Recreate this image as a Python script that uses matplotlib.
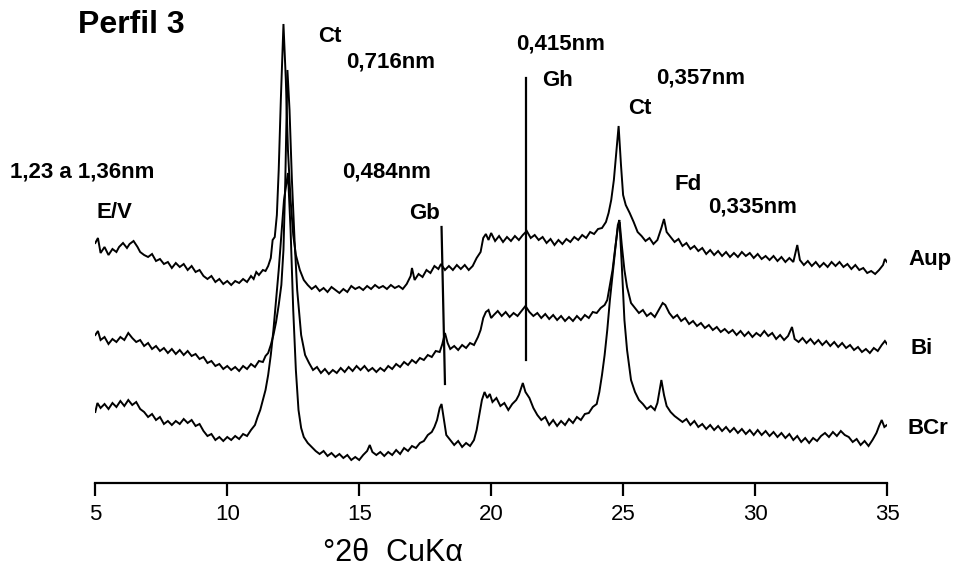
import matplotlib
matplotlib.use("Agg")
import matplotlib.pyplot as plt

plt.rcParams['font.family'] = ['Liberation Sans', 'DejaVu Sans']

# 2theta (degrees) and intensity (arbitrary, offset traces)
aup_x = [5.0,5.1,5.2,5.35,5.5,5.65,5.8,5.9,6.05,6.2,6.3,6.45,6.6,6.7,6.85,7.0,7.15,7.3,7.45,7.6,7.75,7.9,8.05,8.2,8.35,8.5,8.65,8.8,8.95,9.1,9.25,9.4,9.55,9.7,9.85,10.0,10.15,10.3,10.45,10.6,10.75,10.9,11.0,11.1,11.2,11.35,11.45,11.55,11.65,11.72,11.8,11.88,11.95,12.03,12.13,12.22,12.3,12.4,12.5,12.6,12.75,12.9,13.05,13.2,13.35,13.5,13.65,13.8,13.95,14.1,14.25,14.4,14.55,14.7,14.85,15.0,15.15,15.3,15.45,15.6,15.75,15.9,16.05,16.2,16.35,16.5,16.65,16.8,16.95,17.0,17.1,17.25,17.4,17.55,17.7,17.85,18.0,18.1,18.25,18.4,18.55,18.7,18.85,19.0,19.15,19.3,19.45,19.6,19.7,19.8,19.9,20.0,20.15,20.3,20.45,20.6,20.75,20.9,21.05,21.2,21.35,21.5,21.65,21.8,21.95,22.1,22.25,22.4,22.55,22.7,22.85,23.0,23.15,23.3,23.45,23.6,23.75,23.9,24.05,24.2,24.35,24.45,24.55,24.65,24.75,24.83,24.92,25.0,25.1,25.25,25.4,25.55,25.7,25.85,26.0,26.15,26.3,26.45,26.55,26.65,26.8,26.95,27.1,27.25,27.4,27.55,27.7,27.85,28.0,28.15,28.3,28.45,28.6,28.75,28.9,29.05,29.2,29.35,29.5,29.65,29.8,29.95,30.1,30.25,30.4,30.55,30.7,30.85,31.0,31.15,31.3,31.45,31.6,31.7,31.85,32.0,32.15,32.3,32.45,32.6,32.75,32.9,33.05,33.2,33.35,33.5,33.65,33.8,33.95,34.1,34.25,34.4,34.55,34.7,34.85,34.92,35.0]
aup_y = [240,245,230,236,228,234,231,236,240,235,239,242,236,231,228,226,229,222,224,219,221,215,220,216,219,213,217,211,213,207,204,207,201,204,199,202,198,202,200,204,201,207,204,211,208,213,212,217,225,243,246,268,313,383,459,403,333,283,248,228,213,203,198,194,197,192,195,191,196,193,190,194,191,197,194,196,193,197,194,198,195,197,194,198,195,197,194,199,207,215,203,209,206,213,210,217,214,219,213,217,213,218,214,218,213,217,225,231,245,249,243,250,242,247,241,246,242,247,243,248,252,245,248,243,246,240,244,238,243,239,244,241,246,243,248,245,251,249,254,255,261,270,283,303,333,357,318,288,278,270,261,251,247,242,245,239,243,255,264,251,246,241,244,237,240,234,237,232,235,229,233,228,232,227,231,226,230,226,231,227,230,225,229,224,227,223,227,222,226,221,225,221,238,223,218,222,217,221,216,220,216,221,217,221,216,219,214,218,213,215,210,212,209,213,218,224,221]

bi_x = [5.0,5.1,5.2,5.35,5.5,5.65,5.8,5.95,6.1,6.25,6.4,6.55,6.7,6.85,7.0,7.15,7.3,7.45,7.6,7.75,7.9,8.05,8.2,8.35,8.5,8.65,8.8,8.95,9.1,9.25,9.4,9.55,9.7,9.85,10.0,10.15,10.3,10.45,10.6,10.75,10.9,11.05,11.2,11.35,11.45,11.55,11.65,11.75,11.85,11.95,12.05,12.13,12.2,12.28,12.36,12.45,12.55,12.65,12.8,12.95,13.1,13.25,13.4,13.55,13.7,13.85,14.0,14.15,14.3,14.45,14.6,14.75,14.9,15.05,15.2,15.35,15.5,15.65,15.8,15.95,16.1,16.25,16.4,16.55,16.7,16.85,17.0,17.15,17.3,17.45,17.6,17.75,17.9,18.05,18.15,18.25,18.35,18.45,18.6,18.75,18.9,19.05,19.2,19.35,19.5,19.6,19.7,19.8,19.9,20.0,20.1,20.25,20.4,20.55,20.7,20.85,21.0,21.15,21.3,21.45,21.6,21.75,21.9,22.05,22.2,22.35,22.5,22.65,22.8,22.95,23.1,23.25,23.4,23.55,23.7,23.85,24.0,24.15,24.3,24.4,24.5,24.6,24.7,24.8,24.87,24.95,25.05,25.15,25.3,25.45,25.6,25.75,25.9,26.05,26.2,26.35,26.5,26.6,26.75,26.9,27.05,27.2,27.35,27.5,27.65,27.8,27.95,28.1,28.25,28.4,28.55,28.7,28.85,29.0,29.15,29.3,29.45,29.6,29.75,29.9,30.05,30.2,30.35,30.5,30.65,30.8,30.95,31.1,31.25,31.4,31.5,31.65,31.8,31.95,32.1,32.25,32.4,32.55,32.7,32.85,33.0,33.15,33.3,33.45,33.6,33.75,33.9,34.05,34.2,34.35,34.5,34.65,34.8,34.92,35.0]
bi_y = [148,152,143,146,139,144,141,146,143,150,145,141,143,137,140,134,137,132,135,130,134,129,133,128,132,127,129,124,126,120,122,117,119,114,117,113,116,112,117,114,119,116,122,121,127,130,138,148,161,178,198,233,303,413,373,303,243,193,148,128,120,113,116,110,114,109,113,110,115,111,116,112,117,113,117,112,115,111,115,112,117,114,119,116,121,118,123,120,125,123,128,126,132,131,139,150,140,134,137,133,138,135,140,138,146,153,165,171,173,165,168,172,167,171,166,170,167,172,177,171,167,170,165,169,164,168,163,167,162,166,162,167,163,168,165,171,170,175,178,183,198,213,235,255,261,238,213,196,180,175,170,173,167,170,166,173,180,178,170,165,168,162,165,159,162,157,160,155,158,153,156,151,154,150,153,148,152,147,151,146,150,147,152,147,150,144,148,143,147,156,144,141,145,140,144,139,143,138,142,137,141,136,140,135,138,133,136,131,134,130,135,132,138,142,139]

bcr_x = [5.0,5.08,5.2,5.35,5.5,5.65,5.8,5.95,6.1,6.25,6.4,6.55,6.7,6.85,7.0,7.15,7.3,7.45,7.6,7.75,7.9,8.05,8.2,8.35,8.5,8.65,8.8,8.95,9.1,9.25,9.4,9.55,9.7,9.85,10.0,10.15,10.3,10.45,10.6,10.75,10.9,11.05,11.15,11.25,11.35,11.45,11.55,11.65,11.75,11.85,11.95,12.05,12.15,12.3,12.4,12.5,12.6,12.7,12.8,12.9,13.05,13.2,13.35,13.5,13.65,13.8,13.95,14.1,14.25,14.4,14.55,14.7,14.85,15.0,15.15,15.3,15.4,15.5,15.65,15.8,15.95,16.1,16.25,16.4,16.55,16.7,16.85,17.0,17.15,17.3,17.45,17.6,17.75,17.85,17.95,18.05,18.12,18.2,18.3,18.45,18.6,18.75,18.9,19.05,19.2,19.35,19.45,19.55,19.65,19.75,19.85,19.95,20.05,20.2,20.35,20.5,20.65,20.8,20.95,21.05,21.2,21.3,21.45,21.6,21.75,21.9,22.05,22.2,22.35,22.5,22.65,22.8,22.95,23.1,23.25,23.4,23.55,23.7,23.85,24.0,24.1,24.2,24.3,24.4,24.5,24.6,24.7,24.8,24.86,24.95,25.05,25.15,25.3,25.45,25.6,25.75,25.9,26.05,26.2,26.3,26.45,26.55,26.65,26.8,26.95,27.1,27.25,27.4,27.55,27.7,27.85,28.0,28.15,28.3,28.45,28.6,28.75,28.9,29.05,29.2,29.35,29.5,29.65,29.8,29.95,30.1,30.25,30.4,30.55,30.7,30.85,31.0,31.15,31.3,31.45,31.6,31.75,31.9,32.05,32.2,32.35,32.5,32.65,32.8,32.95,33.1,33.25,33.4,33.55,33.7,33.85,34.0,34.15,34.3,34.45,34.6,34.7,34.8,34.9,35.0]
bcr_y = [71,80,75,79,74,80,76,82,77,83,78,81,74,71,66,69,63,66,59,62,58,62,59,64,60,63,57,59,52,47,49,43,46,42,46,43,47,44,49,47,53,58,66,73,83,93,108,128,153,183,213,248,283,310,253,173,113,73,55,46,40,36,32,29,32,27,30,26,29,25,28,23,26,23,28,32,38,31,28,31,27,31,28,33,29,35,32,37,35,40,42,48,51,56,63,75,79,65,48,43,38,42,36,40,37,43,53,68,83,91,85,89,81,85,77,80,73,79,83,88,100,91,85,75,68,63,66,58,63,57,62,58,64,60,66,63,69,70,76,79,91,108,128,153,183,208,233,258,263,218,163,133,103,91,83,79,74,77,73,80,103,88,77,71,67,64,61,64,58,62,56,59,54,58,53,57,52,56,51,55,50,54,49,53,48,53,48,52,47,51,46,50,45,49,43,47,41,45,40,45,42,47,50,46,51,47,52,48,46,41,44,38,42,37,43,50,57,63,56,58]

# reference lines (Gb, Gh)
gb_x = [18.12, 18.25]
gb_y = [256, 99]
gh_x = [21.31, 21.31]
gh_y = [405, 123]

W, H = 955, 576
fig = plt.figure(figsize=(W/100, H/100), dpi=100)
ax = fig.add_axes([95.3/W, 1-483/H, (887-95.3)/W, 483/H])
for xs, ys in [(aup_x, aup_y), (bi_x, bi_y), (bcr_x, bcr_y)]:
    ax.plot(xs, ys, color='black', lw=1.4, solid_joinstyle='miter')
ax.plot(gb_x, gb_y, color='black', lw=1.6)
ax.plot(gh_x, gh_y, color='black', lw=1.6)

ax.set_xlim(5, 35)
ax.set_ylim(0, 483)
for s in ['top', 'left', 'right']:
    ax.spines[s].set_visible(False)
ax.spines['bottom'].set_linewidth(1.6)
ax.set_yticks([])
ax.set_xticks([5, 10, 15, 20, 25, 30, 35])
ax.tick_params(axis='x', direction='out', length=9, width=1.6, labelsize=16, pad=6)
ax.patch.set_visible(False)

def t(px, py, s, size=16, weight='bold', ha='left'):
    fig.text(px/W, 1-py/H, s, fontsize=size, fontweight=weight, ha=ha, va='center')

t(78, 25, 'Perfil 3', size=23)
t(318, 36, 'Ct')
t(346, 62, '0,716nm')
t(516, 44, '0,415nm')
t(542, 80, 'Gh')
t(656, 78, '0,357nm')
t(628, 109, 'Ct')
t(10, 172, '1,23 a 1,36nm')
t(342, 172, '0,484nm')
t(96, 212, 'E/V')
t(409, 213, 'Gb')
t(674, 185, 'Fd')
t(708, 207, '0,335nm')
t(908, 260, 'Aup')
t(910, 348, 'Bi')
t(907, 428, 'BCr')
fig.text(393/W, 1-553/H, '°2θ  CuKα', fontsize=22, ha='center', va='center')

fig.savefig('out.png', dpi=100)
